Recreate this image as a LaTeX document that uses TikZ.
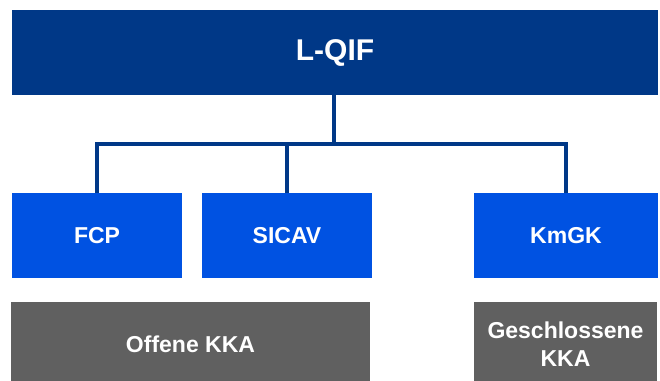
\documentclass[tikz,border=0pt]{standalone}
\usepackage{fontspec}
\setmainfont{Liberation Sans}
\definecolor{navy}{RGB}{0,56,135}
\definecolor{brightblue}{RGB}{0,82,226}
\definecolor{slate}{RGB}{96,96,96}
\begin{document}
\begin{tikzpicture}[x=1pt,y=-1pt,
  box/.style={rectangle, inner sep=0pt, outer sep=0pt, text=white,
    font=\bfseries\fontsize{23}{28}\selectfont, align=center},
  topbox/.style={box, fill=navy, font=\bfseries\fontsize{30}{34}\selectfont},
  fundbox/.style={box, fill=brightblue, minimum height=85pt},
  catbox/.style={box, fill=slate, minimum height=84pt},
  conn/.style={draw=navy, line width=3.5pt, line join=miter}]
\useasboundingbox (0,0) rectangle (660,380);

% top level
\node[topbox, minimum width=646pt, minimum height=85pt] (top) at (335,52.5) {L-QIF};

% fund vehicles
\node[fundbox, minimum width=170pt] (fcp) at (97,235.5) {FCP};
\node[fundbox, minimum width=170pt] (sicav) at (287,235.5) {SICAV};
\node[fundbox, minimum width=184pt] (kmgk) at (566,235.5) {KmGK};

% categories (the lower edge runs past the page border)
\node[catbox, minimum width=359pt] (offen) at (190.5,344) {Offene KKA};
\node[catbox, minimum width=183pt] (geschl) at (565.5,344) {Geschlossene\\KKA};

% tree connectors
\coordinate (bus) at (334,144);
\draw[conn] (top.south -| bus) -- (bus);
\draw[conn] (fcp.north) |- (bus);
\draw[conn] (sicav.north) |- (bus);
\draw[conn] (kmgk.north) |- (bus);
\end{tikzpicture}
\end{document}
